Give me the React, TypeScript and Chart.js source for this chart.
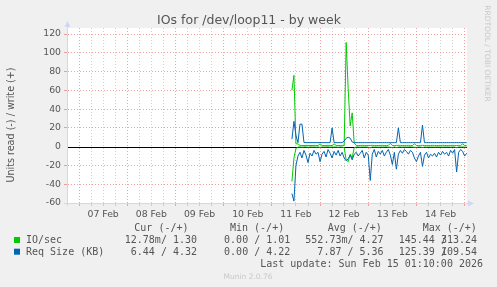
import React, { useEffect, useRef } from "react";
import { Chart, registerables } from "chart.js";
Chart.register(...registerables);

// time axis: hours since 07 Feb 00:00
const X_MIN = -6; // 06 Feb 18:00
const X_MAX = 193.17; // 15 Feb 01:10
const START_HOUR = 106; // first sample (11 Feb 10:00)
const STEP_HOURS = 1;

const dayLabels = ["07 Feb", "08 Feb", "09 Feb", "10 Feb", "11 Feb", "12 Feb", "13 Feb", "14 Feb"];
const dayNoonHours = [12, 36, 60, 84, 108, 132, 156, 180];

// IO/sec write (+)
const ioWrite = [
  60, 76, 3, 3, 1.3, 1.3, 1.2, 1.4, 1.3, 1.2,
  1.3, 1.4, 1.3, 1.2, 3, 1.3, 1.2, 1.3, 1.4, 1.3,
  1.2, 3, 1.3, 1.2, 1.3, 1.4, 1.3, 111, 62, 22,
  36, 4, 1.3, 1.2, 1.3, 1.4, 1.3, 1.2, 1.3, 1.3,
  1.4, 1.3, 1.2, 1.3, 1.3, 1.4, 1.3, 1.2, 1.3, 3.5,
  1.3, 1.2, 1.3, 1.4, 1.3, 1.2, 1.3, 1.3, 1.4, 1.3,
  1.2, 3, 1.3, 1.2, 1.3, 1.4, 1.3, 1.2, 1.3, 1.3,
  1.4, 1.3, 1.2, 1.3, 1.3, 1.4, 1.3, 1.2, 1.3, 1.3,
  1.4, 1.3, 1.2, 1.3, 1.3, 3, 1.3, 1.3,
];
// IO/sec read (-)
const ioRead = [
  -37, -12, -2, -0.4, -0.3, -0.5, -0.3, -0.2, -0.6, -0.3,
  -0.4, -0.3, -0.5, -0.3, -0.8, -0.3, -0.4, -0.3, -0.2, -0.5,
  -0.3, -0.4, -0.3, -0.6, -0.3, -0.4, -0.9, -14, -16, -8,
  -12, -1, -0.4, -0.3, -0.5, -0.3, -0.4, -0.3, -0.6, -1.2,
  -0.3, -0.4, -0.3, -0.5, -0.3, -0.4, -0.3, -0.2, -0.5, -0.6,
  -0.9, -0.3, -1, -0.4, -0.3, -0.5, -0.3, -0.4, -0.3, -0.2,
  -0.4, -0.6, -0.8, -0.3, -0.4, -0.9, -0.3, -0.5, -0.3, -0.4,
  -0.3, -0.5, -0.3, -0.4, -0.3, -0.5, -0.3, -0.4, -0.3, -0.5,
  -0.3, -0.4, -1, -0.3, -0.4, -0.3, -0.5, -0.4,
];
// Req Size (KB) write (+)
const sizeWrite = [
  8, 27, 12, 4.3, 24, 24, 4.4, 4.3, 4.3, 4.3,
  4.3, 4.3, 4.3, 4.3, 4.3, 4.3, 4.3, 4.3, 4.3, 4.3,
  20, 4.3, 4.3, 4.3, 4.3, 4.3, 6, 9, 10, 9,
  5, 4.3, 4.3, 4.3, 4.3, 4.3, 4.3, 4.3, 4.3, 4.3,
  4.3, 4.3, 4.3, 4.3, 4.3, 4.3, 4.3, 4.3, 4.3, 4.3,
  4.3, 4.3, 4.3, 20, 4.3, 4.3, 4.3, 4.3, 4.3, 4.3,
  4.3, 4.3, 4.3, 4.3, 4.3, 23, 4.3, 4.3, 4.3, 4.3,
  4.3, 4.3, 4.3, 4.3, 4.3, 4.3, 4.3, 4.3, 4.3, 4.3,
  4.3, 4.3, 4.3, 4.3, 4.3, 4.3, 4.3, 4.3,
];
// Req Size (KB) read (-)
const sizeRead = [
  -50, -58, -20, -10, -6, -12, -4, -9, -17, -7,
  -10, -4, -8, -6, -16, -8, -5, -11, -3, -7,
  -12, -5, -9, -4, -10, -6, -12, -15, -13, -9,
  -14, -8, -6, -10, -7, -4, -12, -6, -9, -36,
  -8, -3, -11, -5, -8, -4, -10, -6, -3, -9,
  -19, -6, -24, -8, -4, -7, -3, -5, -8, -4,
  -6, -12, -16, -10, -6, -21, -9, -6, -12, -8,
  -10, -7, -11, -6, -9, -5, -8, -6, -10, -4,
  -7, -3, -27, -6, -3, -5, -10, -7,
];

const legendHeaders = ["Cur (-/+)", "Min (-/+)", "Avg (-/+)", "Max (-/+)"];
const ioStatsRead = ["12.78m", "0.00 ", "552.73m", "145.44 "];
const ioStatsWrite = ["1.30", "1.01", "4.27", "313.24"];
const sizeStatsRead = ["6.44 ", "0.00 ", "7.87 ", "125.39 "];
const sizeStatsWrite = ["4.32", "4.22", "5.36", "109.54"];

const GREEN = "#00CC00";
const BLUE = "#0066B3";
const TEXT = "#555555";
const AXIS = "#CFD6F8";
const MONO = "'DejaVu Sans Mono', monospace";
const SANS = "'DejaVu Sans', sans-serif";

export default function App() {
  const ref = useRef<HTMLCanvasElement>(null);
  useEffect(() => {
    document.body.style.margin = "0";
    const canvas = ref.current!;
    const pts = (arr: number[]) => arr.map((v, i) => ({ x: START_HOUR + i * STEP_HOURS, y: v }));
    const ds = (label: string, data: number[], color: string) => ({
      label,
      data: pts(data),
      borderColor: color,
      backgroundColor: color,
      borderWidth: 1,
      pointRadius: 0,
      tension: 0,
      fill: false,
    });

    const decor = {
      id: "decor",
      beforeDraw(chart: any) {
        const { ctx, chartArea: a, width, height } = chart;
        ctx.save();
        ctx.fillStyle = "#F0F0F0";
        ctx.fillRect(0, 0, width, height);
        ctx.fillStyle = "#FFFFFF";
        ctx.fillRect(a.left, a.top, a.right - a.left, a.bottom - a.top);
        ctx.restore();
      },
      beforeDatasetsDraw(chart: any) {
        const { ctx, chartArea: a } = chart;
        const y0 = Math.round(chart.scales.y.getPixelForValue(0)) + 0.5;
        ctx.save();
        ctx.setLineDash([]);
        ctx.strokeStyle = "#000000";
        ctx.lineWidth = 1.2;
        ctx.beginPath();
        ctx.moveTo(a.left, y0);
        ctx.lineTo(a.right, y0);
        ctx.stroke();
        ctx.restore();
      },
      afterDraw(chart: any) {
        const { ctx, chartArea: a } = chart;
        const xs = chart.scales.x;
        ctx.save();
        ctx.setLineDash([]);
        // axis extensions and arrows
        ctx.strokeStyle = AXIS;
        ctx.fillStyle = AXIS;
        ctx.lineWidth = 1;
        ctx.beginPath();
        ctx.moveTo(a.left + 0.5, a.bottom + 3);
        ctx.lineTo(a.left + 0.5, a.top - 5);
        ctx.moveTo(a.left - 3, a.bottom + 0.5);
        ctx.lineTo(a.right + 2, a.bottom + 0.5);
        ctx.stroke();
        ctx.beginPath();
        ctx.moveTo(a.left + 0.5, a.top - 7);
        ctx.lineTo(a.left - 2.5, a.top - 1);
        ctx.lineTo(a.left + 3.5, a.top - 1);
        ctx.closePath();
        ctx.fill();
        ctx.beginPath();
        ctx.moveTo(a.right + 7, a.bottom + 0.5);
        ctx.lineTo(a.right + 1, a.bottom - 2.5);
        ctx.lineTo(a.right + 1, a.bottom + 3.5);
        ctx.closePath();
        ctx.fill();

        // title
        ctx.fillStyle = TEXT;
        ctx.font = `12.5px ${SANS}`;
        ctx.textAlign = "center";
        ctx.textBaseline = "alphabetic";
        ctx.fillText("IOs for /dev/loop11 - by week", 249, 24);

        // y-axis title
        ctx.save();
        ctx.font = `9.6px ${SANS}`;
        ctx.translate(11, 125);
        ctx.rotate(-Math.PI / 2);
        ctx.textBaseline = "middle";
        ctx.fillText("Units read (-) / write (+)", 0, 0);
        ctx.restore();

        // x labels
        ctx.font = `9.3px ${SANS}`;
        ctx.textAlign = "center";
        dayLabels.forEach((lab, i) => {
          ctx.fillText(lab, xs.getPixelForValue(dayNoonHours[i]), 216.5);
        });

        // legend
        ctx.font = `10px ${MONO}`;
        const cw = ctx.measureText("0").width;
        const headerX = [134.3, 230, 327.7, 422.7];
        ctx.textAlign = "left";
        legendHeaders.forEach((h, i) => ctx.fillText(h, headerX[i], 231));
        const colRight = [197, 290.3, 383.6, 477];
        const rows = [
          { label: "IO/sec", color: GREEN, r: ioStatsRead, w: ioStatsWrite, y: 243.3 },
          { label: "Req Size (KB)", color: BLUE, r: sizeStatsRead, w: sizeStatsWrite, y: 255 },
        ];
        rows.forEach((row) => {
          ctx.fillStyle = row.color;
          ctx.fillRect(14, row.y - 6.3, 6, 6);
          ctx.fillStyle = TEXT;
          ctx.textAlign = "left";
          ctx.fillText(row.label, 26, row.y);
          ctx.textAlign = "right";
          colRight.forEach((cr, i) => {
            ctx.fillText(row.r[i] + "/", cr - 5 * cw, row.y);
            ctx.fillText(row.w[i], cr, row.y);
          });
        });
        ctx.textAlign = "right";
        ctx.fillText("Last update: Sun Feb 15 01:10:00 2026", 483, 266.7);

        // footer
        ctx.fillStyle = "#C8C8C8";
        ctx.font = `7.5px ${SANS}`;
        ctx.textAlign = "center";
        ctx.fillText("Munin 2.0.76", 248, 279);

        // watermark
        ctx.save();
        ctx.translate(487, 53.5);
        ctx.rotate(Math.PI / 2);
        ctx.textBaseline = "middle";
        ctx.fillStyle = "#C8C8C8";
        ctx.fillText("RRDTOOL / TOBI OETIKER", 0, 0);
        ctx.restore();

        ctx.restore();
      },
    };

    const chart = new Chart(canvas, {
      type: "line",
      data: {
        datasets: [
          ds("Req Size read", sizeRead, BLUE),
          ds("Req Size write", sizeWrite, BLUE),
          ds("IO/sec write", ioWrite, GREEN),
          ds("IO/sec read", ioRead, GREEN),
        ],
      },
      options: {
        animation: false,
        responsive: false,
        devicePixelRatio: 1,
        layout: { padding: { left: 0, right: 30, top: 28, bottom: 84 } },
        plugins: { legend: { display: false }, tooltip: { enabled: false }, title: { display: false } },
        scales: {
          x: {
            type: "linear",
            min: X_MIN,
            max: X_MAX,
            afterFit: (s: any) => {
              s.height = 0;
            },
            ticks: { display: false, stepSize: 6, includeBounds: false },
            grid: {
              color: (c: any) =>
                c.tick && c.tick.value === X_MIN
                  ? "rgba(0,0,0,0)"
                  : c.tick && c.tick.value % 24 === 0
                  ? "rgba(235,130,130,0.75)"
                  : "rgba(190,190,190,0.75)",
              tickLength: 3,
              lineWidth: 1,
            },
            border: { color: AXIS, dash: [1, 2] },
          },
          y: {
            type: "linear",
            min: -60,
            max: 126.4,
            afterFit: (s: any) => {
              s.width = 67;
            },
            ticks: {
              stepSize: 10,
              includeBounds: false,
              padding: 3,
              color: TEXT,
              font: { family: "DejaVu Sans", size: 9.3 },
              callback: (v: any) => (Math.round(v) % 20 === 0 ? String(Math.round(v)) : ""),
            },
            grid: {
              color: (c: any) =>
                c.tick && c.tick.value === -60
                  ? "rgba(0,0,0,0)"
                  : c.tick && Math.round(c.tick.value) === 0
                  ? "rgba(0,0,0,0)"
                  : c.tick && Math.round(c.tick.value) % 20 === 0
                  ? "rgba(235,130,130,0.75)"
                  : "rgba(190,190,190,0.75)",
              tickLength: 3,
              lineWidth: 1,
            },
            border: { color: AXIS, dash: [1, 2] },
          },
        },
      },
      plugins: [decor],
    });
    return () => chart.destroy();
  }, []);

  return (
    <div style={{ position: "fixed", left: 0, top: 0, width: 497, height: 287, background: "#F0F0F0" }}>
      <canvas ref={ref} width={497} height={287} style={{ display: "block", width: 497, height: 287 }} />
    </div>
  );
}
